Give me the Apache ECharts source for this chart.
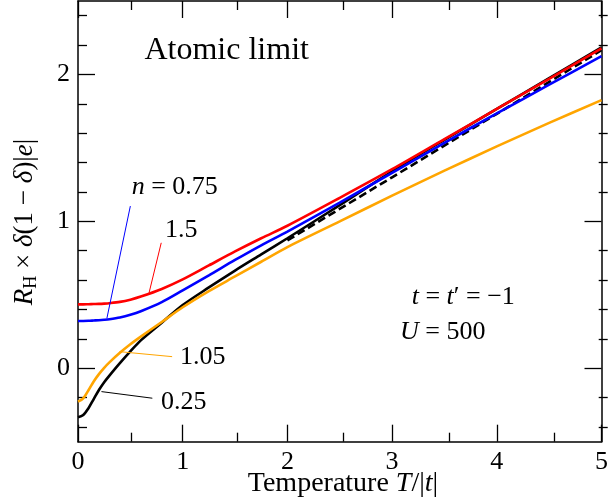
<!DOCTYPE html>
<html><head><meta charset="utf-8">
<script src="https://cdn.jsdelivr.net/npm/echarts@6/dist/echarts.min.js"></script>
<style>html,body{margin:0;padding:0;background:#fff}#c{width:611px;height:504px}</style>
</head><body><div id="c"></div>
<script>
// ---- data ----
const tGrid = [0, 0.05, 0.1, 0.15, 0.2, 0.25, 0.3, 0.4, 0.5, 0.6, 0.8, 1.0, 1.25, 1.5, 1.75, 2.0, 2.5, 3.0, 3.5, 4.0, 4.5, 5.0];
const rhN150 = [0.435, 0.435, 0.436, 0.437, 0.438, 0.44, 0.443, 0.452, 0.467, 0.488, 0.54, 0.605, 0.70, 0.795, 0.885, 0.97, 1.16, 1.355, 1.56, 1.765, 1.97, 2.178];
const rhN075 = [0.322, 0.322, 0.323, 0.325, 0.327, 0.33, 0.334, 0.346, 0.364, 0.388, 0.45, 0.53, 0.632, 0.737, 0.837, 0.93, 1.128, 1.33, 1.535, 1.735, 1.93, 2.125];
const rhN025 = [-0.333, -0.318, -0.272, -0.21, -0.148, -0.095, -0.05, 0.035, 0.115, 0.19, 0.31, 0.43, 0.55, 0.665, 0.775, 0.885, 1.11, 1.34, 1.555, 1.765, 1.975, 2.185];
const rhN105 = [-0.227, -0.205, -0.15, -0.09, -0.04, 0.003, 0.04, 0.105, 0.163, 0.215, 0.315, 0.415, 0.525, 0.625, 0.725, 0.825, 1.0, 1.175, 1.345, 1.51, 1.67, 1.825];
const dashT = [2.0, 3.0, 4.0, 5.0];
const dashV = [0.87, 1.3, 1.732, 2.165];
// leader lines (data coords): [from label, to curve]
const leadBlue = [[0.5, 1.104], [0.276, 0.34]];
const leadRed = [[0.795, 0.854], [0.679, 0.514]];
const leadOrange = [[0.899, 0.079], [0.396, 0.113]];
const leadBlack = [[0.71, -0.204], [0.224, -0.159]];
const xTicks = [0, 1, 2, 3, 4, 5];
const xMinorTicks = [0.5, 1.5, 2.5, 3.5, 4.5];
const yTicks = [0, 1, 2];
const yMinorTicks = [-0.4, -0.2, 0.2, 0.4, 0.6, 0.8, 1.2, 1.4, 1.6, 1.8, 2.2, 2.4];

const pairs = (xs, ys) => xs.map((x, i) => [x, ys[i]]);
const FONT = 'Liberation Serif';
const chart = echarts.init(document.getElementById('c'), null, {renderer: 'canvas'});

const gridRect = {left: 78, top: 1, width: 529.7, height: 440.7};
const lineCol = '#000';
function xAx(grid, pos, major) {
  return {
    type: 'value', gridIndex: grid, position: pos, min: 0, max: 5,
    axisLine: {show: major, onZero: false, lineStyle: {color: lineCol, width: 1.5}},
    axisTick: {show: true, inside: true, length: major ? 17 : 9, customValues: major ? xTicks : xMinorTicks,
      lineStyle: {color: lineCol, width: 1.3}},
    axisLabel: {show: major && pos === 'bottom', customValues: xTicks, color: '#000', fontSize: 26, fontFamily: FONT, margin: 7},
    splitLine: {show: false}
  };
}
function yAx(grid, pos, major) {
  return {
    type: 'value', gridIndex: grid, position: pos, min: -0.5, max: 2.5,
    axisLine: {show: major, onZero: false, lineStyle: {color: lineCol, width: 1.5}},
    axisTick: {show: true, inside: true, length: major ? 17 : 9, customValues: major ? yTicks : yMinorTicks,
      lineStyle: {color: lineCol, width: 1.3}},
    axisLabel: {show: major && pos === 'left', customValues: yTicks, color: '#000', fontSize: 26, fontFamily: FONT, margin: 8},
    splitLine: {show: false}
  };
}
function curve(data, color, width, type, smooth) {
  return {type: 'line', xAxisIndex: 0, yAxisIndex: 0, data: data, showSymbol: false, symbol: 'none',
    smooth: smooth, silent: true,
    lineStyle: {color: color, width: width, type: type || 'solid'}};
}
function lead(data, color) {
  return {type: 'line', xAxisIndex: 0, yAxisIndex: 0, data: data, showSymbol: false, symbol: 'none', silent: true,
    lineStyle: {color: color, width: 1}};
}
function mkRich(sz) {
  return {
    i: {fontStyle: 'italic', fontFamily: FONT, fontSize: sz, lineHeight: sz + 4, fill: '#000'},
    n: {fontFamily: FONT, fontSize: sz, lineHeight: sz + 4, fill: '#000'},
    s: {fontFamily: FONT, fontSize: Math.round(sz * 0.68), lineHeight: Math.round(sz * 0.5), verticalAlign: 'bottom', fill: '#000'}
  };
}
function txt(x, y, text, align, size, rot) {
  const sz = size || 26;
  return {type: 'text', x: x, y: y, rotation: rot || 0, silent: true,
    style: {text: text, fontFamily: FONT, fontSize: sz, lineHeight: sz + 4, fill: '#000',
      align: align || 'left', verticalAlign: 'middle', rich: mkRich(sz)}};
}

chart.setOption({
  animation: false,
  backgroundColor: '#fff',
  grid: [Object.assign({}, gridRect), Object.assign({}, gridRect)],
  xAxis: [xAx(0, 'bottom', true), xAx(0, 'top', true), xAx(1, 'bottom', false), xAx(1, 'top', false)],
  yAxis: [yAx(0, 'left', true), yAx(0, 'right', true), yAx(1, 'left', false), yAx(1, 'right', false)],
  series: [
    curve(pairs(tGrid, rhN025), '#000000', 2.6, 'solid', 0.3),
    curve(pairs(dashT, dashV), '#000000', 2.6, [8, 4], false),
    curve(pairs(tGrid, rhN105), '#ffa500', 2.6, 'solid', 0.3),
    curve(pairs(tGrid, rhN075), '#0000ff', 2.6, 'solid', 0.3),
    curve(pairs(tGrid, rhN150), '#ff0000', 2.6, 'solid', 0.3),
    lead(leadBlue, '#0000ff'),
    lead(leadRed, '#ff0000'),
    lead(leadOrange, '#ffa500'),
    lead(leadBlack, '#000000')
  ],
  graphic: [
    txt(226.7, 51, 'Atomic limit', 'center', 32),
    txt(131.7, 187, '{i|n}{n| = 0.75}', 'left'),
    txt(165, 230, '1.5', 'left'),
    txt(180, 357, '1.05', 'left'),
    txt(161, 402, '0.25', 'left'),
    txt(411.7, 297, '{i|t}{n| = }{i|t}{n|′ = −1}', 'left'),
    txt(400, 332, '{i|U}{n| = 500}', 'left'),
    txt(343, 484, '{n|Temperature }{i|T}{n|/|}{i|t}{n||}', 'center', 28),
    txt(25, 222, '{i|R}{s|H}{n| × }{i|δ}{n|(1 − }{i|δ}{n|)|}{i|e}{n||}', 'center', 27, Math.PI / 2)
  ]
});
</script>
</body></html>
